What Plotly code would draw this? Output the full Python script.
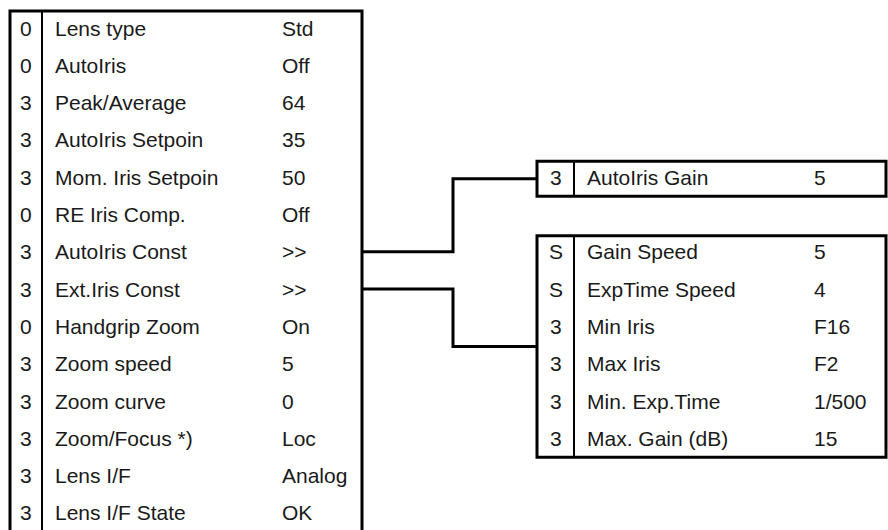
import plotly.graph_objects as go

# ---- data ----
main_codes = ["0", "0", "3", "3", "3", "0", "3", "3", "0", "3", "3", "3", "3", "3"]
main_labels = ["Lens type", "AutoIris", "Peak/Average", "AutoIris Setpoin",
               "Mom. Iris Setpoin", "RE Iris Comp.", "AutoIris Const",
               "Ext.Iris Const", "Handgrip Zoom", "Zoom speed", "Zoom curve",
               "Zoom/Focus *)", "Lens I/F", "Lens I/F State"]
main_values = ["Std", "Off", "64", "35", "50", "Off", ">>", ">>", "On", "5",
               "0", "Loc", "Analog", "OK"]

sub1_codes = ["3"]
sub1_labels = ["AutoIris Gain"]
sub1_values = ["5"]

sub2_codes = ["S", "S", "3", "3", "3", "3"]
sub2_labels = ["Gain Speed", "ExpTime Speed", "Min Iris", "Max Iris",
               "Min. Exp.Time", "Max. Gain (dB)"]
sub2_values = ["5", "4", "F16", "F2", "1/500", "15"]

# ---- layout geometry ----
W, H = 888, 530
ROW0 = 28.0        # centre of first row
PITCH = 37.3       # row pitch
FONT = dict(family="Liberation Sans, Arial, sans-serif", size=21, color="#1a1a1a")

def row_y(i):
    return ROW0 + PITCH * i

L_LEFT, L_SEP, L_RIGHT, L_TOP = 10, 42, 362, 11
R_LEFT, R_SEP, R_RIGHT = 537, 574, 886
SUB1_ROW = 4       # aligned with main row index
SUB2_ROW = 6
LABEL_OFF = 13
VALUE_OFF = 240

fig = go.Figure()
annotations = []
shapes = []

def add_rows(codes, labels, values, first_row, left, sep):
    for k, (c, l, v) in enumerate(zip(codes, labels, values)):
        y = row_y(first_row + k)
        annotations.append(dict(x=(left + sep) / 2, y=y, text=c, xanchor="center",
                                yanchor="middle", showarrow=False, font=FONT,
                                xref="x", yref="y"))
        annotations.append(dict(x=sep + LABEL_OFF - 2, y=y, text=l, xanchor="left",
                                yanchor="middle", showarrow=False, font=FONT,
                                xref="x", yref="y"))
        annotations.append(dict(x=sep + VALUE_OFF - 2, y=y, text=v, xanchor="left",
                                yanchor="middle", showarrow=False, font=FONT,
                                xref="x", yref="y"))

add_rows(main_codes, main_labels, main_values, 0, L_LEFT, L_SEP)
add_rows(sub1_codes, sub1_labels, sub1_values, SUB1_ROW, R_LEFT, R_SEP)
add_rows(sub2_codes, sub2_labels, sub2_values, SUB2_ROW, R_LEFT, R_SEP)

line3 = dict(color="black", width=3)
line2 = dict(color="black", width=2)

# main table: open at the bottom
shapes.append(dict(type="path", xref="x", yref="y",
                   path=f"M {L_LEFT},{H+10} L {L_LEFT},{L_TOP} L {L_RIGHT},{L_TOP} L {L_RIGHT},{H+10}",
                   line=line3))
shapes.append(dict(type="line", xref="x", yref="y", x0=L_SEP, x1=L_SEP,
                   y0=L_TOP, y1=H + 10, line=line2))

def add_box(first_row, n):
    top = row_y(first_row) - 17 + 1
    bot = row_y(first_row + n - 1) + 19
    shapes.append(dict(type="rect", xref="x", yref="y", x0=R_LEFT, x1=R_RIGHT,
                       y0=top, y1=bot, line=line3))
    shapes.append(dict(type="line", xref="x", yref="y", x0=R_SEP, x1=R_SEP,
                       y0=top, y1=bot, line=line2))
    return (top + bot) / 2

c1 = add_box(SUB1_ROW, len(sub1_codes))
c2 = add_box(SUB2_ROW, len(sub2_codes))

# connectors
XJ = 453
ya = row_y(6)
yb = row_y(7)
shapes.append(dict(type="path", xref="x", yref="y",
                   path=f"M {L_RIGHT},{ya} L {XJ},{ya} L {XJ},{c1} L {R_LEFT},{c1}",
                   line=line3))
shapes.append(dict(type="path", xref="x", yref="y",
                   path=f"M {L_RIGHT},{yb} L {XJ},{yb} L {XJ},{c2} L {R_LEFT},{c2}",
                   line=line3))

fig.update_layout(
    width=W, height=H,
    margin=dict(l=0, r=0, t=0, b=0),
    paper_bgcolor="white", plot_bgcolor="white",
    xaxis=dict(range=[0, W], visible=False, fixedrange=True),
    yaxis=dict(range=[H, 0], visible=False, fixedrange=True),
    showlegend=False,
    annotations=annotations,
    shapes=shapes,
)

fig.write_html("out.html", config={"displayModeBar": False},
               post_script="document.body.style.margin='0px';document.body.style.overflow='hidden';")
